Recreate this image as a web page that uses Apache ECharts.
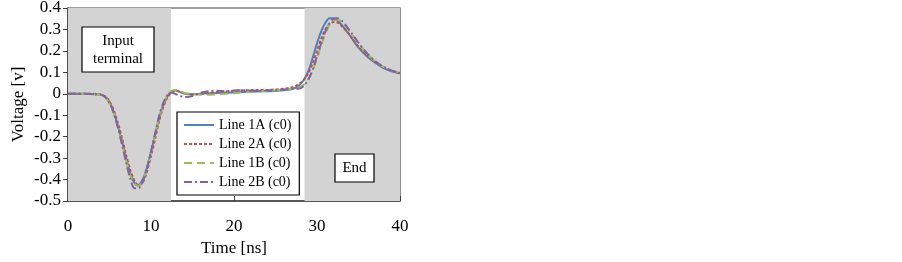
<!DOCTYPE html>
<html><head><meta charset="utf-8">
<script src="https://cdn.jsdelivr.net/npm/echarts@6/dist/echarts.min.js"></script>
<style>html,body{margin:0;padding:0;background:#fff}#c{width:902px;height:262px}</style>
</head><body><div id="c"></div>
<script>
const times = [0,1,2,3,4,4.5,5,5.5,6,6.5,7,7.5,8,8.5,9,9.5,10,10.5,11,11.5,12,12.5,13,13.5,14,15,16,17,18,19,20,21,22,23,24,25,26,27,27.5,28,28.5,29,29.5,30,30.5,31,31.5,32,32.5,33,33.5,34,35,36,37,38,39,40];
const line1A = [0,0,0,-0.002,-0.005,-0.015,-0.04,-0.085,-0.15,-0.22,-0.30,-0.37,-0.415,-0.425,-0.40,-0.345,-0.27,-0.19,-0.11,-0.05,-0.01,0.012,0.015,0.008,0.0,-0.002,0.0,0.002,0.004,0.005,0.006,0.008,0.01,0.011,0.012,0.013,0.016,0.022,0.03,0.045,0.07,0.11,0.17,0.235,0.29,0.33,0.352,0.352,0.34,0.32,0.295,0.27,0.215,0.175,0.145,0.12,0.105,0.095];
const line2A = [0,0,0,0,-0.004,-0.012,-0.035,-0.075,-0.135,-0.205,-0.285,-0.355,-0.405,-0.428,-0.415,-0.365,-0.29,-0.21,-0.125,-0.06,-0.015,0.008,0.014,0.01,0.002,-0.003,0.0,0.004,0.008,0.011,0.014,0.016,0.017,0.018,0.018,0.02,0.024,0.03,0.038,0.05,0.07,0.1,0.145,0.2,0.255,0.3,0.325,0.335,0.332,0.315,0.295,0.27,0.22,0.18,0.148,0.124,0.108,0.097];
const line1B = [0,0,0,-0.002,-0.006,-0.018,-0.045,-0.09,-0.155,-0.23,-0.31,-0.38,-0.42,-0.43,-0.405,-0.35,-0.275,-0.19,-0.11,-0.045,-0.005,0.015,0.018,0.012,0.004,-0.002,-0.004,-0.004,-0.003,0.0,0.003,0.006,0.009,0.012,0.014,0.016,0.018,0.022,0.026,0.033,0.045,0.07,0.11,0.165,0.225,0.28,0.32,0.34,0.345,0.333,0.312,0.288,0.235,0.188,0.152,0.125,0.108,0.098];
const line2B = [0,0,0,-0.002,-0.005,-0.016,-0.042,-0.088,-0.155,-0.235,-0.32,-0.395,-0.44,-0.44,-0.41,-0.35,-0.27,-0.185,-0.1,-0.04,-0.005,0.005,-0.002,-0.01,-0.015,-0.01,0.005,0.012,0.014,0.012,0.015,0.017,0.015,0.014,0.016,0.018,0.02,0.022,0.023,0.025,0.04,0.07,0.115,0.175,0.235,0.29,0.33,0.35,0.352,0.34,0.318,0.292,0.238,0.19,0.153,0.126,0.108,0.098];
const seriesNames = ['Line 1A (c0)','Line 2A (c0)','Line 1B (c0)','Line 2B (c0)'];
const shadedRegions = [[0,12.4],[28.5,40]];
const xTicks = {min:0,max:40,interval:10};
const yTicks = {min:-0.5,max:0.4,interval:0.1};

const colors = ['#4f81bd','#c0504d','#9bbb59','#8064a2'];
const dashes = ['solid',[3,2],[8,5],[8,3,2,3]];
const font = 'Liberation Serif, Times New Roman, serif';
const dataSets = [line1A,line2A,line1B,line2B];

const series = dataSets.map((arr,i)=>({
  name: seriesNames[i], type:'line', showSymbol:false, symbol:'none', smooth:0.3,
  data: times.map((t,k)=>[t,arr[k]]),
  lineStyle:{color:colors[i], width:2, type:dashes[i]},
  itemStyle:{color:colors[i]},
  z: 3
}));
series.unshift({
  type:'line', data:[], silent:true, z:1,
  markArea:{silent:true, itemStyle:{color:'#d3d3d3'},
    data: shadedRegions.map(r=>[{xAxis:r[0]},{xAxis:r[1]}])}
});

const chart = echarts.init(document.getElementById('c'), null, {renderer:'canvas'});
chart.setOption({
  animation:false,
  grid:{left:68, right:502, top:8, bottom:61, containLabel:false, outerBoundsMode:'none',
    show:true, borderColor:'#404040', borderWidth:1.2, backgroundColor:'transparent'},
  xAxis:{type:'value', min:xTicks.min, max:xTicks.max, interval:xTicks.interval,
    name:'Time [ns]', nameLocation:'middle', nameGap:39,
    nameTextStyle:{fontFamily:font, fontSize:17, color:'#000'},
    axisLine:{onZero:false, lineStyle:{color:'#404040', width:1.5}},
    axisTick:{inside:true, length:5, lineStyle:{color:'#404040'}},
    axisLabel:{fontFamily:font, fontSize:17, color:'#000', margin:17},
    splitLine:{show:false}},
  yAxis:{type:'value', min:yTicks.min, max:yTicks.max, interval:yTicks.interval,
    name:'Voltage [v]', nameLocation:'middle', nameGap:41,
    nameTextStyle:{fontFamily:font, fontSize:17, color:'#000'},
    axisLine:{lineStyle:{color:'#404040', width:1.5}},
    axisTick:{inside:false, length:5, lineStyle:{color:'#404040'}},
    axisLabel:{fontFamily:font, fontSize:17, color:'#000', margin:7,
      formatter:v=>Math.abs(v)<1e-9?'0':v.toFixed(1)},
    splitLine:{show:false}},
  legend:{data:seriesNames, orient:'vertical', left:177, top:112,
    backgroundColor:'#fff', borderColor:'#000', borderWidth:1.2, padding:[6,8,6,6],
    itemWidth:30, itemHeight:12, itemGap:5,
    itemStyle:{opacity:0},
    textStyle:{fontFamily:font, fontSize:14, color:'#000'}},
  graphic:[
    {type:'rect', shape:{x:82, y:27, width:72, height:45}, style:{fill:'#fff', stroke:'#000', lineWidth:1.2}, z:10},
    {type:'text', x:118, y:50, style:{text:'Input\nterminal', font:'15px '+font, fill:'#000', align:'center', verticalAlign:'middle', lineHeight:18}, z:11},
    {type:'rect', shape:{x:335, y:154, width:39, height:28}, style:{fill:'#fff', stroke:'#000', lineWidth:1.2}, z:10},
    {type:'text', x:354.5, y:168, style:{text:'End', font:'15px '+font, fill:'#000', align:'center', verticalAlign:'middle'}, z:11}
  ],
  series: series
});
</script></body></html>
